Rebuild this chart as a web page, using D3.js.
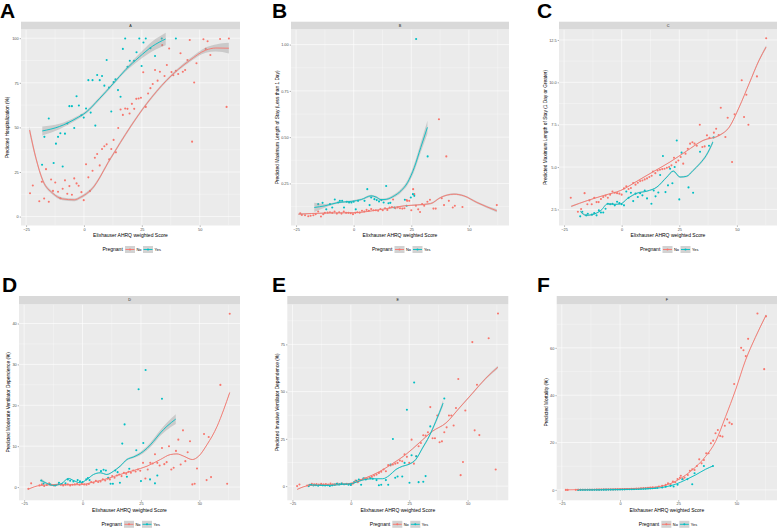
<!DOCTYPE html>
<html><head><meta charset="utf-8">
<script src="https://cdn.jsdelivr.net/npm/d3@7"></script>
<style>html,body{margin:0;padding:0;background:#fff}svg{display:block}</style>
</head><body>
<svg id="chart" width="778" height="529"></svg>
<script>
// ---------------- DATA ----------------
const xTicks = [-25, 0, 25, 50];
const xTitle = "Elixhauser AHRQ weighted Score";
const legendTitle = "Pregnant";
const groups = ["No", "Yes"];

// Panel A
const A_yTicks = [0, 25, 50, 75, 100];
const A_yLabels = ["0", "25", "50", "75", "100"];
const A_no = [[-23.3,13.1],[-22.1,17.4],[-19.3,8.6],[-18.2,19.5],[-17.2,10.1],[-16.4,26.6],[-15.2,8.3],[-14.2,20.8],[-13.4,14.4],[-12.4,19.1],[-11.2,13.9],[-10.2,10.3],[-9.2,15.6],[-8.2,20.3],[-7.2,12.8],[-6.3,17.1],[-5.2,12.2],[-4.2,21.4],[-3.2,18.6],[-2.3,17.3],[-1.1,13.7],[-0.1,9.2],[0.9,29.3],[1.9,22],[2.6,14.3],[3.7,25.7],[4.7,33],[5.7,35.1],[6.8,28.7],[7.8,37.9],[8.8,39.4],[9.8,40.5],[10.9,32.1],[11.8,37.9],[12.8,43],[13.8,36],[14.8,49.7],[15.8,60],[16.8,57],[17.8,60.6],[18.8,60.4],[19.7,57.8],[20.7,63.2],[21.7,60.4],[22.6,66],[23.6,66.2],[24.6,66.6],[25.6,80.9],[26.7,61.5],[27.7,69],[28.7,72],[29.7,74.3],[30.7,82.2],[31.8,76.2],[32.8,81.2],[33.8,96.1],[34.8,78.8],[35.8,85],[36.8,94.2],[37.8,81],[38.6,79.2],[39.7,81.8],[40.7,79.9],[41.7,91.6],[42.7,81.2],[43.7,82.2],[44.7,87.8],[45.7,99],[46.7,42],[47.6,75.2],[48.6,86],[51.6,99.4],[52.6,94],[53.4,98.3],[54.6,90.6],[58.8,99.6],[61.6,61.5],[62.6,99.8]];
const A_yes = [[-15.2,55],[-17.1,44.7],[-18.1,29.1],[-13.1,30],[-12.1,40.9],[-11.2,44.7],[-10.2,46.7],[-9.2,28.1],[-8.2,46.5],[-7.2,52.2],[-6.3,61.9],[-5.2,61.9],[-4.2,49.7],[-3.2,67.5],[-2.2,62.3],[-1.1,56.8],[-0.1,55.5],[0.9,60.6],[1.9,76.5],[2.9,58.3],[3.7,76.5],[4.9,51],[5.7,79.4],[6.8,76.5],[7.8,78.8],[8.8,73.4],[9.8,87.8],[10.8,72.4],[11.8,58.9],[12.8,75.4],[13.6,76.9],[14.7,70.9],[15.8,67.2],[16.8,94],[17.8,99.8],[18.8,84],[19.8,87.4],[21.6,87.4],[22.7,92.1],[23.9,99.8],[24.9,84.4],[25.7,97.6],[26.7,99.8],[28.7,94.4],[30.7,90],[33.6,99.8],[39.7,99.8]];
const A_noFit = [[-23.5,48.5,2],[-20.7,32.5,1.4],[-17.8,20.3,1],[-13.5,13.1,0.8],[-9.2,9.9,0.8],[-4.2,9.4,0.8],[-1.5,10.8,0.8],[3.5,15.6,0.8],[11.4,32.4,0.8],[20,50.2,0.8],[27.1,63.3,0.8],[35.7,76.4,0.8],[45.7,87.6,1],[52.6,93.3,1.5],[57,94.5,2],[62.6,94.4,3]];
const A_yesFit = [[-18,48,2.5],[-10.6,50.5,1.5],[-3.4,55,1],[0.9,58.5,0.9],[6.6,66,0.9],[12.6,74.5,0.9],[18.1,82.5,1],[23.9,89.5,1.8],[29.6,95.5,2.8],[35.3,99.6,3.5]];

// Panel B
const B_yTicks = [0.25, 0.5, 0.75, 1.0];
const B_yLabels = ["0.25", "0.50", "0.75", "1.00"];
const B_no = [[-23.2,0.089],[-22.5,0.08],[-21.1,0.078],[-19.7,0.073],[-18.7,0.075],[-17.5,0.078],[-16.5,0.084],[-15.4,0.098],[-14.2,0.071],[-13.2,0.084],[-12.5,0.091],[-11.3,0.092],[-10.3,0.094],[-9.3,0.091],[-8.3,0.098],[-7.3,0.087],[-6.3,0.094],[-5.3,0.087],[-4.3,0.098],[-3.3,0.091],[-2.3,0.091],[-1.3,0.089],[-0.3,0.084],[0.7,0.091],[1.6,0.094],[2.6,0.092],[3.6,0.102],[4.6,0.098],[5.6,0.107],[6.6,0.102],[7.6,0.112],[8.6,0.105],[9.6,0.105],[10.6,0.102],[11.6,0.112],[12.6,0.105],[13.6,0.116],[14.6,0.107],[15.6,0.12],[16.6,0.123],[17.1,0.163],[18.1,0.116],[19.1,0.12],[20.1,0.116],[21.1,0.114],[22,0.116],[23,0.16],[23.2,0.156],[24.1,0.156],[25,0.105],[25.8,0.219],[26.3,0.192],[27,0.129],[28,0.11],[28.8,0.096],[29.7,0.138],[30.6,0.129],[32,0.151],[33.1,0.162],[34.6,0.114],[35.6,0.114],[37,0.597],[38.2,0.17],[39.2,0.133],[40.2,0.396],[41.3,0.156],[43,0.12],[43.9,0.129],[47.2,0.123],[62.1,0.133]];
const B_yes = [[-15.4,0.138],[-13.5,0.145],[-11.9,0.11],[-10.3,0.138],[-9.3,0.12],[-8.2,0.163],[-6.7,0.147],[-6,0.156],[-5,0.156],[-4.2,0.12],[-3,0.151],[-2,0.147],[-1,0.147],[0,0.151],[0.9,0.11],[1.9,0.156],[4.7,0.156],[5.9,0.219],[6.9,0.133],[7.6,0.174],[9,0.165],[10,0.16],[11,0.153],[12,0.16],[13,0.147],[14.1,0.236],[15.1,0.143],[15.9,0.145],[17.6,0.12],[22.2,0.162],[23,0.129],[24.8,0.174],[25.7,0.192],[26.3,0.183],[27.1,1.03],[32.1,0.396]];
const B_noFit = [[-24,0.084,0.004],[-12.5,0.09,0.002],[0.4,0.092,0.002],[13.3,0.112,0.002],[22,0.129,0.003],[27.7,0.134,0.003],[33.4,0.141,0.004],[37.7,0.174,0.004],[43.5,0.192,0.005],[47.8,0.183,0.005],[53.5,0.147,0.006],[62.1,0.102,0.008]];
const B_yesFit = [[-17.1,0.12,0.025],[-12.5,0.129,0.01],[-6.7,0.147,0.006],[-1,0.153,0.005],[3.3,0.163,0.005],[7.6,0.183,0.006],[9.8,0.176,0.006],[11.9,0.162,0.006],[14.1,0.164,0.006],[17.6,0.183,0.008],[20.5,0.21,0.01],[23.4,0.255,0.014],[26.3,0.336,0.02],[29.1,0.444,0.026],[32,0.553,0.035]];

// Panel C
const C_yTicks = [2.5, 5, 7.5, 10, 12.5];
const C_yLabels = ["2.5", "5.0", "7.5", "10.0", "12.5"];
const C_no = [[-22.1,3.19],[-19,2.36],[-17.6,2.52],[-16.1,3.46],[-14.9,2.8],[-14,3.03],[-13,2.8],[-11.9,3.19],[-10.9,2.93],[-10,2.93],[-9,3.11],[-8,3.23],[-7,3.31],[-6,3.19],[-5,3.37],[-4,3.56],[-3,3.48],[-2,3.46],[-1,3.43],[0,3.37],[1,3.74],[2,3.86],[3,3.7],[4,3.76],[5,4.06],[6,3.96],[7,4.07],[8,4.17],[9,4.21],[10,4.27],[11,4.33],[12,4.41],[13,4.49],[13.6,4.74],[14.6,4.64],[15.6,4.8],[16.6,4.84],[17.6,4.88],[18.6,4.9],[19.6,4.96],[20.6,5],[21.6,5.1],[22.7,5.55],[23.6,5.28],[24.6,5.39],[25.6,5.59],[26.7,5.2],[27.7,5.79],[28.7,6.08],[29.7,6.38],[30.7,6.46],[31.6,6.38],[32.6,6.26],[33.9,7.5],[35,6.18],[36,6.22],[37,6.87],[38.1,6.73],[40,7.03],[41,7.26],[42.1,6.89],[43,8.5],[45,6.77],[46,7.91],[47.9,5.3],[49,8.11],[52.1,10.12],[53.1,7.95],[54.1,9.27],[55,7.5],[58.7,10.35],[62.7,12.6]];
const C_yes = [[-18,2.09],[-17.1,2.36],[-15.4,2.15],[-14.7,2.24],[-12.9,2.19],[-11.9,2.28],[-10.9,2.15],[-9.9,2.44],[-9,2.32],[-8,2.32],[-7,2.54],[-6,2.83],[-5,2.8],[-4,2.83],[-3,2.74],[-2,2.95],[-1,2.87],[0,2.8],[1,2.74],[2,3.56],[3,3.19],[4,3.48],[5,2.99],[6,3.43],[7,3.23],[8,3.46],[9,3.33],[10,3.62],[11,3.15],[12.9,2.83],[13.9,3.62],[14.7,3.27],[15.9,3.5],[16.7,4.53],[17.9,5.65],[19,3.52],[20.1,3.92],[21,4.9],[22,4.04],[23,5],[23.9,6.57],[25,3.09],[26,5.85],[29,3.8],[31,3.48],[34,5.9],[37.9,6.26],[39.9,6.75]];
const C_noFit = [[-21.9,2.68,0.05],[-14.7,3.03,0.025],[-7.6,3.33,0.02],[-0.4,3.62,0.02],[6.7,4.17,0.02],[13.9,4.74,0.02],[21,5.3,0.02],[28.1,5.94,0.025],[35.3,6.57,0.03],[42.4,6.87,0.035],[46.7,7.36,0.04],[51,8.54,0.05],[55.3,9.92,0.06],[59.6,11.3,0.08],[62.7,12.09,0.1]];
const C_yesFit = [[-17.9,2.38,0.08],[-15.4,2.15,0.05],[-12.6,2.2,0.04],[-9,2.44,0.035],[-6.1,2.83,0.035],[-3.3,2.8,0.035],[-0.4,2.83,0.035],[2.4,3.13,0.035],[6.7,3.46,0.035],[11,3.58,0.035],[15.3,3.82,0.035],[19.6,4.41,0.04],[22.4,4.76,0.05],[25.3,4.41,0.05],[28.1,4.45,0.05],[31,4.8,0.06],[33.9,5.2,0.07],[36.7,5.69,0.09],[39.6,6.48,0.12]];

// Panel D
const D_yTicks = [0, 10, 20, 30, 40];
const D_yLabels = ["0", "10", "20", "30", "40"];
const D_no = [[-23.2,-0.4],[-22,0.9],[-18.4,0.4],[-17.4,0.65],[-16.4,0.24],[-15.3,0.5],[-14.3,0.9],[-13.3,0.57],[-12.3,0.4],[-11.3,0.57],[-10.3,0.73],[-9.3,0.57],[-8.3,0.4],[-7.3,0.57],[-6.3,0.65],[-5.3,0.4],[-4.3,0.57],[-3.3,0.65],[-2.3,0.81],[-1.3,0.57],[-0.3,0.9],[0.7,0.65],[1.7,0.57],[2.7,0.73],[3.7,1.22],[4.7,1.05],[5.7,1.54],[6.7,1.22],[7.7,1.38],[8.7,1.87],[9.7,1.62],[10.7,2.03],[11.7,1.87],[12.7,2.68],[13.7,2.27],[14.7,2.84],[15.7,3.08],[16.7,2.68],[17.7,3.49],[18.7,3.25],[19.7,3.73],[20.7,3.49],[21.7,4.06],[22.7,3.81],[23.7,4.3],[24.7,3.98],[25.9,5.92],[26.9,2.1],[27.9,4.3],[29,5.92],[30,5.76],[31,8.03],[32,5.92],[33,5.27],[34,9.57],[35,5.6],[36,6.09],[37,9.98],[38,4.3],[39,4.71],[40,8.84],[41,11.6],[42,5.52],[43,13.87],[44,6.33],[45,8.52],[46,11.2],[47,0.65],[48,0.81],[49,4.54],[52,12.98],[53.1,1.7],[54,12.25],[55,2.43],[59,24.99],[61.9,0.81],[63,42.4]];
const D_yes = [[-17.7,1.62],[-16.7,0.81],[-13.9,0.65],[-11.7,0.4],[-10.1,1.05],[-8.9,0.73],[-7.3,0.9],[-6.3,1.87],[-5.3,1.54],[-3.9,1.38],[-2.1,1.7],[-1.1,1.38],[0,1.22],[1.6,1.87],[2.3,2.19],[3,1.7],[6,4.22],[7.9,3.89],[9,4.22],[10,4.06],[11,2.27],[12,0.81],[13,0.81],[14,4.06],[15,3.65],[16,1.05],[17,10.63],[18,15.33],[19,2.52],[20,4.46],[23,9.0],[24,23.94],[25,1.46],[26,10.79],[27,28.64],[28.9,1.87],[31,0.9],[32,2.84],[34,21.58]];
const D_noFit = [[-23.4,-0.57,0.08],[-18.1,0.4,0.05],[-12.4,0.57,0.04],[-6.7,0.57,0.04],[-1,0.57,0.04],[4.7,1.22,0.05],[10.4,2.03,0.05],[16.1,3.08,0.06],[21.9,4.06,0.06],[27.6,5.11,0.07],[33.3,6.73,0.08],[37.6,7.95,0.09],[40.4,8.11,0.1],[43.3,7.55,0.1],[47,6.73,0.1],[49.7,7.55,0.11],[53.3,10.39,0.13],[57.6,14.85,0.16],[60.4,18.9,0.2],[63,23.12,0.25]];
const D_yesFit = [[-17.7,1.62,0.45],[-15.3,0.9,0.2],[-12.4,0.4,0.12],[-8.9,0.9,0.12],[-6,2.11,0.12],[-3.9,1.62,0.12],[-1,1.05,0.12],[1.9,1.87,0.12],[4.7,3.08,0.12],[7.6,3.49,0.12],[10.4,3.08,0.12],[13.3,3.89,0.15],[16.1,5.11,0.2],[19,6.73,0.25],[21.9,7.38,0.3],[24.7,8.19,0.4],[27.6,9.49,0.5],[30.4,11.2,0.6],[33.3,13.23,0.7],[36.1,14.85,0.9],[39.9,16.63,1.2]];

// Panel E
const E_yTicks = [0, 25, 50, 75];
const E_yLabels = ["0", "25", "50", "75"];
const E_no = [[-23,0],[-22,0.88],[-18.7,0.35],[-17.7,0.7],[-16.7,1.2],[-15.7,0.9],[-14.7,1.1],[-13.7,0.8],[-12.7,1.2],[-11.7,0.9],[-10.7,1.1],[-9.7,0.8],[-8.7,1.3],[-7.7,1.0],[-6.7,0.9],[-5.7,1.3],[-4.7,1.1],[-3.7,1.4],[-2.7,1.0],[-1.7,1.2],[-0.7,1.1],[0.3,0.9],[1,1.4],[2,3],[3,2.1],[4,3.2],[5,3.5],[6,4.2],[7,4],[8,4.6],[9,4.9],[10,5.6],[11,6.1],[12,7],[13,7.6],[14,8.8],[15,7.9],[16,11.1],[17,10.9],[18,11.4],[19,11.9],[20,12.3],[21,13.5],[22,13.2],[23,16.9],[24,15.5],[25,12.3],[26,24.6],[27,11.9],[28,15.8],[29,21.1],[30,22.8],[31,26.9],[32,26.7],[33,28.5],[34,41.8],[35,25.3],[36,25.3],[37,37.4],[38,23.2],[39,23.7],[40,28.5],[41,31.1],[42,37.4],[43,37.4],[44,32.1],[45,41.3],[46,56.7],[47,5.8],[48,12.8],[49,40],[52,76.2],[53,29.5],[54,53.6],[55,27],[59,78.2],[62,8.8],[63,91.3]];
const E_yes = [[-18,0],[-17,0.7],[-16,0.3],[-15,0.5],[-14,0.2],[-13,0.6],[-12,0.4],[-11,0.3],[-10,0.5],[-9,0.1],[-8,0.4],[-7,0.8],[-6,1.2],[-5,0.9],[-4,1.3],[-3,1.0],[-2,1.1],[-1,0.7],[0,0.6],[1.4,2.1],[2.4,2.8],[3.4,3.5],[4.4,0.7],[5.4,4.2],[6.4,3.5],[8.4,4.2],[9.4,3.9],[11,3.2],[12,0.5],[13,0.7],[15,3.2],[16,0.7],[17,11.4],[18,24.9],[19,4.4],[20,5.1],[22,5.1],[23,12.3],[24,40.4],[25.1,1.76],[26,16.3],[27.1,54.8],[28,15.8],[29,2.1],[31,2.3],[32,5.3],[34,31.6],[40,46.4]];
const E_noFit = [[-23,-1.76,0.2],[-17.8,0.35,0.12],[-10.7,0.7,0.1],[-3.6,0.88,0.1],[0.7,1.76,0.1],[6.4,4.4,0.12],[12.1,7.55,0.15],[17.8,11.9,0.18],[23.5,16.7,0.2],[29.2,22.8,0.25],[34.9,29,0.28],[40.7,33.4,0.3],[46.4,41.3,0.35],[52.1,49.2,0.4],[57.8,57.1,0.55],[62.9,62.9,0.8]];
const E_yesFit = [[-18.1,0.7,0.2],[-10.7,0.35,0.12],[-3.6,0.88,0.12],[0.7,1.4,0.12],[5,3.2,0.15],[9.3,3.9,0.15],[13.6,3.9,0.15],[16.4,5.6,0.2],[19.3,8.8,0.25],[22.1,10.5,0.3],[25,11.6,0.35],[27.8,14.1,0.45],[30.7,20.2,0.6],[33.5,26.3,0.8],[36.4,34.3,1.1],[39.5,43.9,1.5]];

// Panel F
const F_yTicks = [0, 20, 40, 60];
const F_yLabels = ["0", "20", "40", "60"];
const F_no = [[-23.3,0],[-22.5,0],[-19,0.02],[-18,0.03],[-17,0.03],[-16,0.04],[-15,0.05],[-14,0.05],[-13,0.06],[-12,0.07],[-11,0.08],[-10,0.09],[-9,0.1],[-8,0.11],[-7,0.12],[-6,0.14],[-5,0.15],[-4,0.17],[-3,0.19],[-2,0.21],[-1,0.23],[0,0.26],[1,0.29],[2,0.32],[3,0.35],[4,0.39],[5,0.44],[6,0.48],[7,0.53],[8,0.59],[9,0.66],[10,0.73],[11,0.8],[12,0.9],[13,1.0],[14,1.1],[15.3,1],[16.7,1.4],[18.1,1.7],[19.6,2.1],[20.6,2.8],[21.7,2.4],[22.7,3.5],[23.7,3.2],[24.7,4.6],[25.7,5.1],[26.1,6],[27,4.6],[27.7,5.2],[29.1,6.3],[30,8.1],[31,8.7],[32,8.4],[33,10.1],[34,12.9],[35,11.2],[36,12.6],[37,15.5],[38,15.5],[39,19.7],[40,20.8],[41,23.9],[42,25.3],[43,22.8],[44,22.5],[45,27.1],[46,29.8],[47,28.4],[48,27.8],[49,44.7],[52,60],[53,59],[54,56.5],[55,63.8],[59,74.5],[61.9,51],[62.7,73.3]];
const F_yes = [[-18,0],[-17,0.02],[-16,0.03],[-15,0.03],[-14,0.04],[-13,0.04],[-12,0.05],[-11,0.05],[-10,0.06],[-9,0.07],[-8,0.08],[-7,0.09],[-6,0.1],[-5,0.11],[-4,0.12],[-3,0.13],[-2,0.15],[-1,0.16],[0,0.18],[1,0.2],[2,0.22],[3,0.24],[4,0.27],[5,0.3],[6,0.33],[7,0.36],[8,0.4],[9,0.44],[10,0.48],[11,0.53],[12,0.58],[13,0.64],[14,0.7],[15,0.77],[16,0.85],[18.1,1],[19.6,1.3],[21.7,1.7],[23,1.4],[24.7,2.2],[26.7,4.5],[28.9,4.5],[31,2.4],[32,7],[36,10.1],[39.9,10.1]];
const F_noFit = [[-23.3,0,0.04],[-7.6,0.28,0.03],[6.7,0.56,0.03],[13.9,1,0.04],[19.6,2,0.05],[23.9,3.65,0.06],[28.1,6.2,0.08],[32.4,9.6,0.1],[36.7,14.1,0.12],[41,20.4,0.15],[45.3,30.9,0.18],[49.6,42.2,0.22],[53.9,54.8,0.28],[58.1,64.4,0.35],[62.7,73.8,0.45]];
const F_yesFit = [[-17.6,0,0.04],[-0.4,0.14,0.03],[13.9,0.56,0.04],[19.6,1.3,0.05],[23.9,2.4,0.06],[28.1,4.2,0.08],[32.4,6.3,0.1],[36.7,8.7,0.15],[39.9,10.1,0.2]];

// ---------------- LAYOUT ----------------
const xDomain = [-27.2, 67.4];
const COL_NO = "#F8766D", COL_YES = "#00BFC4";
const TOP = {strip: 21.7, top: 29.3, bottom: 225.5, letterY: 18};
const BOT = {strip: 296, top: 304.3, bottom: 500.3, letterY: 292};

const panels = [
  {id:"A", row:TOP, left:21, right:240, yDomain:[-5,105], yTicks:A_yTicks, yLabels:A_yLabels, no:A_no, yes:A_yes, noFit:A_noFit, yesFit:A_yesFit, yTitle:"Predicted Hospitalization (%)", yTitleX:8.6, letterX:0},
  {id:"B", row:TOP, left:291, right:509, yDomain:[0.0227,1.0827], yTicks:B_yTicks, yLabels:B_yLabels, no:B_no, yes:B_yes, noFit:B_noFit, yesFit:B_yesFit, yTitle:"Predicted Maximum Length of Stay (Less than 1 Day)", yTitleX:278.6, letterX:272},
  {id:"C", row:TOP, left:559, right:777, yDomain:[1.55,13.13], yTicks:C_yTicks, yLabels:C_yLabels, no:C_no, yes:C_yes, noFit:C_noFit, yesFit:C_yesFit, yTitle:"Predicted Maximum Length of Stay (1 Day or Greater)", yTitleX:547, letterX:537},
  {id:"D", row:BOT, left:19, right:240, yDomain:[-3.24,44.7], yTicks:D_yTicks, yLabels:D_yLabels, no:D_no, yes:D_yes, noFit:D_noFit, yesFit:D_yesFit, yTitle:"Predicted Moderate Ventilator Dependence (%)", yTitleX:9.5, letterX:2},
  {id:"E", row:BOT, left:287.3, right:508.3, yDomain:[-7.5,96.2], yTicks:E_yTicks, yLabels:E_yLabels, no:E_no, yes:E_yes, noFit:E_noFit, yesFit:E_yesFit, yTitle:"Predicted Invasive Ventilator Dependence (%)", yTitleX:278.6, letterX:272},
  {id:"F", row:BOT, left:556.7, right:777, yDomain:[-4.4,78.4], yTicks:F_yTicks, yLabels:F_yLabels, no:F_no, yes:F_yes, noFit:F_noFit, yesFit:F_yesFit, yTitle:"Predicted Mortality (%)", yTitleX:547.5, letterX:537}
];

const FONT = "'Liberation Sans', Arial, Helvetica, sans-serif";
const svg = d3.select("#chart");
svg.append("rect").attr("width",778).attr("height",529).attr("fill","#fff");

function midpoints(t, dom){
  const step = t[1]-t[0], out=[];
  for (let v = t[0]-step/2; v <= dom[1]; v += step) if (v >= dom[0]) out.push(v);
  return out;
}

panels.forEach((p, i) => {
  const g = svg.append("g");
  const top = p.row.top, bottom = p.row.bottom;
  const x = d3.scaleLinear().domain(xDomain).range([p.left, p.right]);
  const y = d3.scaleLinear().domain(p.yDomain).range([bottom, top]);
  const clipId = "clip"+p.id;
  svg.append("defs").append("clipPath").attr("id",clipId)
    .append("rect").attr("x",p.left).attr("y",top).attr("width",p.right-p.left).attr("height",bottom-top);

  g.append("rect").attr("x",p.left).attr("y",top).attr("width",p.right-p.left).attr("height",bottom-top).attr("fill","#EBEBEB");
  const grid = g.append("g").attr("clip-path",`url(#${clipId})`);
  midpoints(xTicks, xDomain).forEach(v => grid.append("line").attr("x1",x(v)).attr("x2",x(v)).attr("y1",top).attr("y2",bottom).attr("stroke","#fff").attr("stroke-width",0.3));
  midpoints(p.yTicks, p.yDomain).forEach(v => grid.append("line").attr("y1",y(v)).attr("y2",y(v)).attr("x1",p.left).attr("x2",p.right).attr("stroke","#fff").attr("stroke-width",0.3));
  xTicks.forEach(v => grid.append("line").attr("x1",x(v)).attr("x2",x(v)).attr("y1",top).attr("y2",bottom).attr("stroke","#fff").attr("stroke-width",0.6));
  p.yTicks.forEach(v => grid.append("line").attr("y1",y(v)).attr("y2",y(v)).attr("x1",p.left).attr("x2",p.right).attr("stroke","#fff").attr("stroke-width",0.6));

  g.append("rect").attr("x",p.left).attr("y",p.row.strip).attr("width",p.right-p.left).attr("height",top-p.row.strip).attr("fill","#D9D9D9");
  g.append("text").attr("x",(p.left+p.right)/2).attr("y",(p.row.strip+top)/2+1.3).attr("text-anchor","middle")
    .attr("font-family",FONT).attr("font-size",3.8).attr("fill","#1A1A1A").text(p.id);

  const xAxis = d3.axisBottom(x).tickValues(xTicks).tickSize(1.3).tickPadding(1).tickFormat(d3.format("d"));
  const yAxis = d3.axisLeft(y).tickValues(p.yTicks).tickSize(1.3).tickPadding(1).tickFormat((d,k)=>p.yLabels[k]);
  const gx = g.append("g").attr("transform",`translate(0,${bottom})`).call(xAxis);
  const gy = g.append("g").attr("transform",`translate(${p.left},0)`).call(yAxis);
  [gx, gy].forEach(a => {
    a.select(".domain").remove();
    a.selectAll("line").attr("stroke","#333").attr("stroke-width",0.4);
    a.selectAll("text").attr("font-family",FONT).attr("font-size",3.9).attr("fill","#4D4D4D");
  });

  const plot = g.append("g").attr("clip-path",`url(#${clipId})`);
  const area = d3.area().x(d=>x(d[0])).y0(d=>y(d[1]-d[2])).y1(d=>y(d[1]+d[2])).curve(d3.curveMonotoneX);
  const line = d3.line().x(d=>x(d[0])).y(d=>y(d[1])).curve(d3.curveMonotoneX);
  const pts = (arr, col) => plot.append("g").selectAll("circle").data(arr).join("circle")
      .attr("cx",d=>x(d[0])).attr("cy",d=>y(d[1])).attr("r",1.05).attr("fill",col);
  pts(p.no, COL_NO);
  pts(p.yes, COL_YES);
  [[p.noFit,COL_NO],[p.yesFit,COL_YES]].forEach(([fit,col]) => {
    plot.append("path").datum(fit).attr("d",area).attr("fill","#999999").attr("fill-opacity",0.4);
    plot.append("path").datum(fit).attr("d",line).attr("fill","none").attr("stroke",col).attr("stroke-width",0.9);
  });

  g.append("text").attr("x",(p.left+p.right)/2).attr("y",bottom+11.5).attr("text-anchor","middle")
    .attr("font-family",FONT).attr("font-size",5).attr("fill","#000").text(xTitle);
  g.append("text").attr("transform",`translate(${p.yTitleX},${(top+bottom)/2}) rotate(-90)`).attr("text-anchor","middle")
    .attr("font-family",FONT).attr("font-size",4.8).attr("fill","#000").text(p.yTitle);

  const cx = (p.left+p.right)/2, ly = bottom + 24;
  const lg = g.append("g");
  lg.append("text").attr("x",cx-28).attr("y",ly+1.8).attr("font-family",FONT).attr("font-size",5).attr("fill","#000").text(legendTitle);
  [[COL_NO,-5.5,groups[0]],[COL_YES,12.5,groups[1]]].forEach(([col,dx,lab]) => {
    lg.append("rect").attr("x",cx+dx).attr("y",ly-3.5).attr("width",10).attr("height",7).attr("fill","#D2D2D2");
    lg.append("line").attr("x1",cx+dx+0.5).attr("x2",cx+dx+9.5).attr("y1",ly).attr("y2",ly).attr("stroke",col).attr("stroke-width",0.9);
    lg.append("circle").attr("cx",cx+dx+5).attr("cy",ly).attr("r",1.05).attr("fill",col);
    lg.append("text").attr("x",cx+dx+11.5).attr("y",ly+1.4).attr("font-family",FONT).attr("font-size",3.9).attr("fill","#000").text(lab);
  });

  svg.append("text").attr("x",p.letterX).attr("y",p.row.letterY).attr("font-family",FONT).attr("font-weight","bold")
    .attr("font-size",21).attr("fill","#000").text(p.id);
});
</script>
</body></html>
